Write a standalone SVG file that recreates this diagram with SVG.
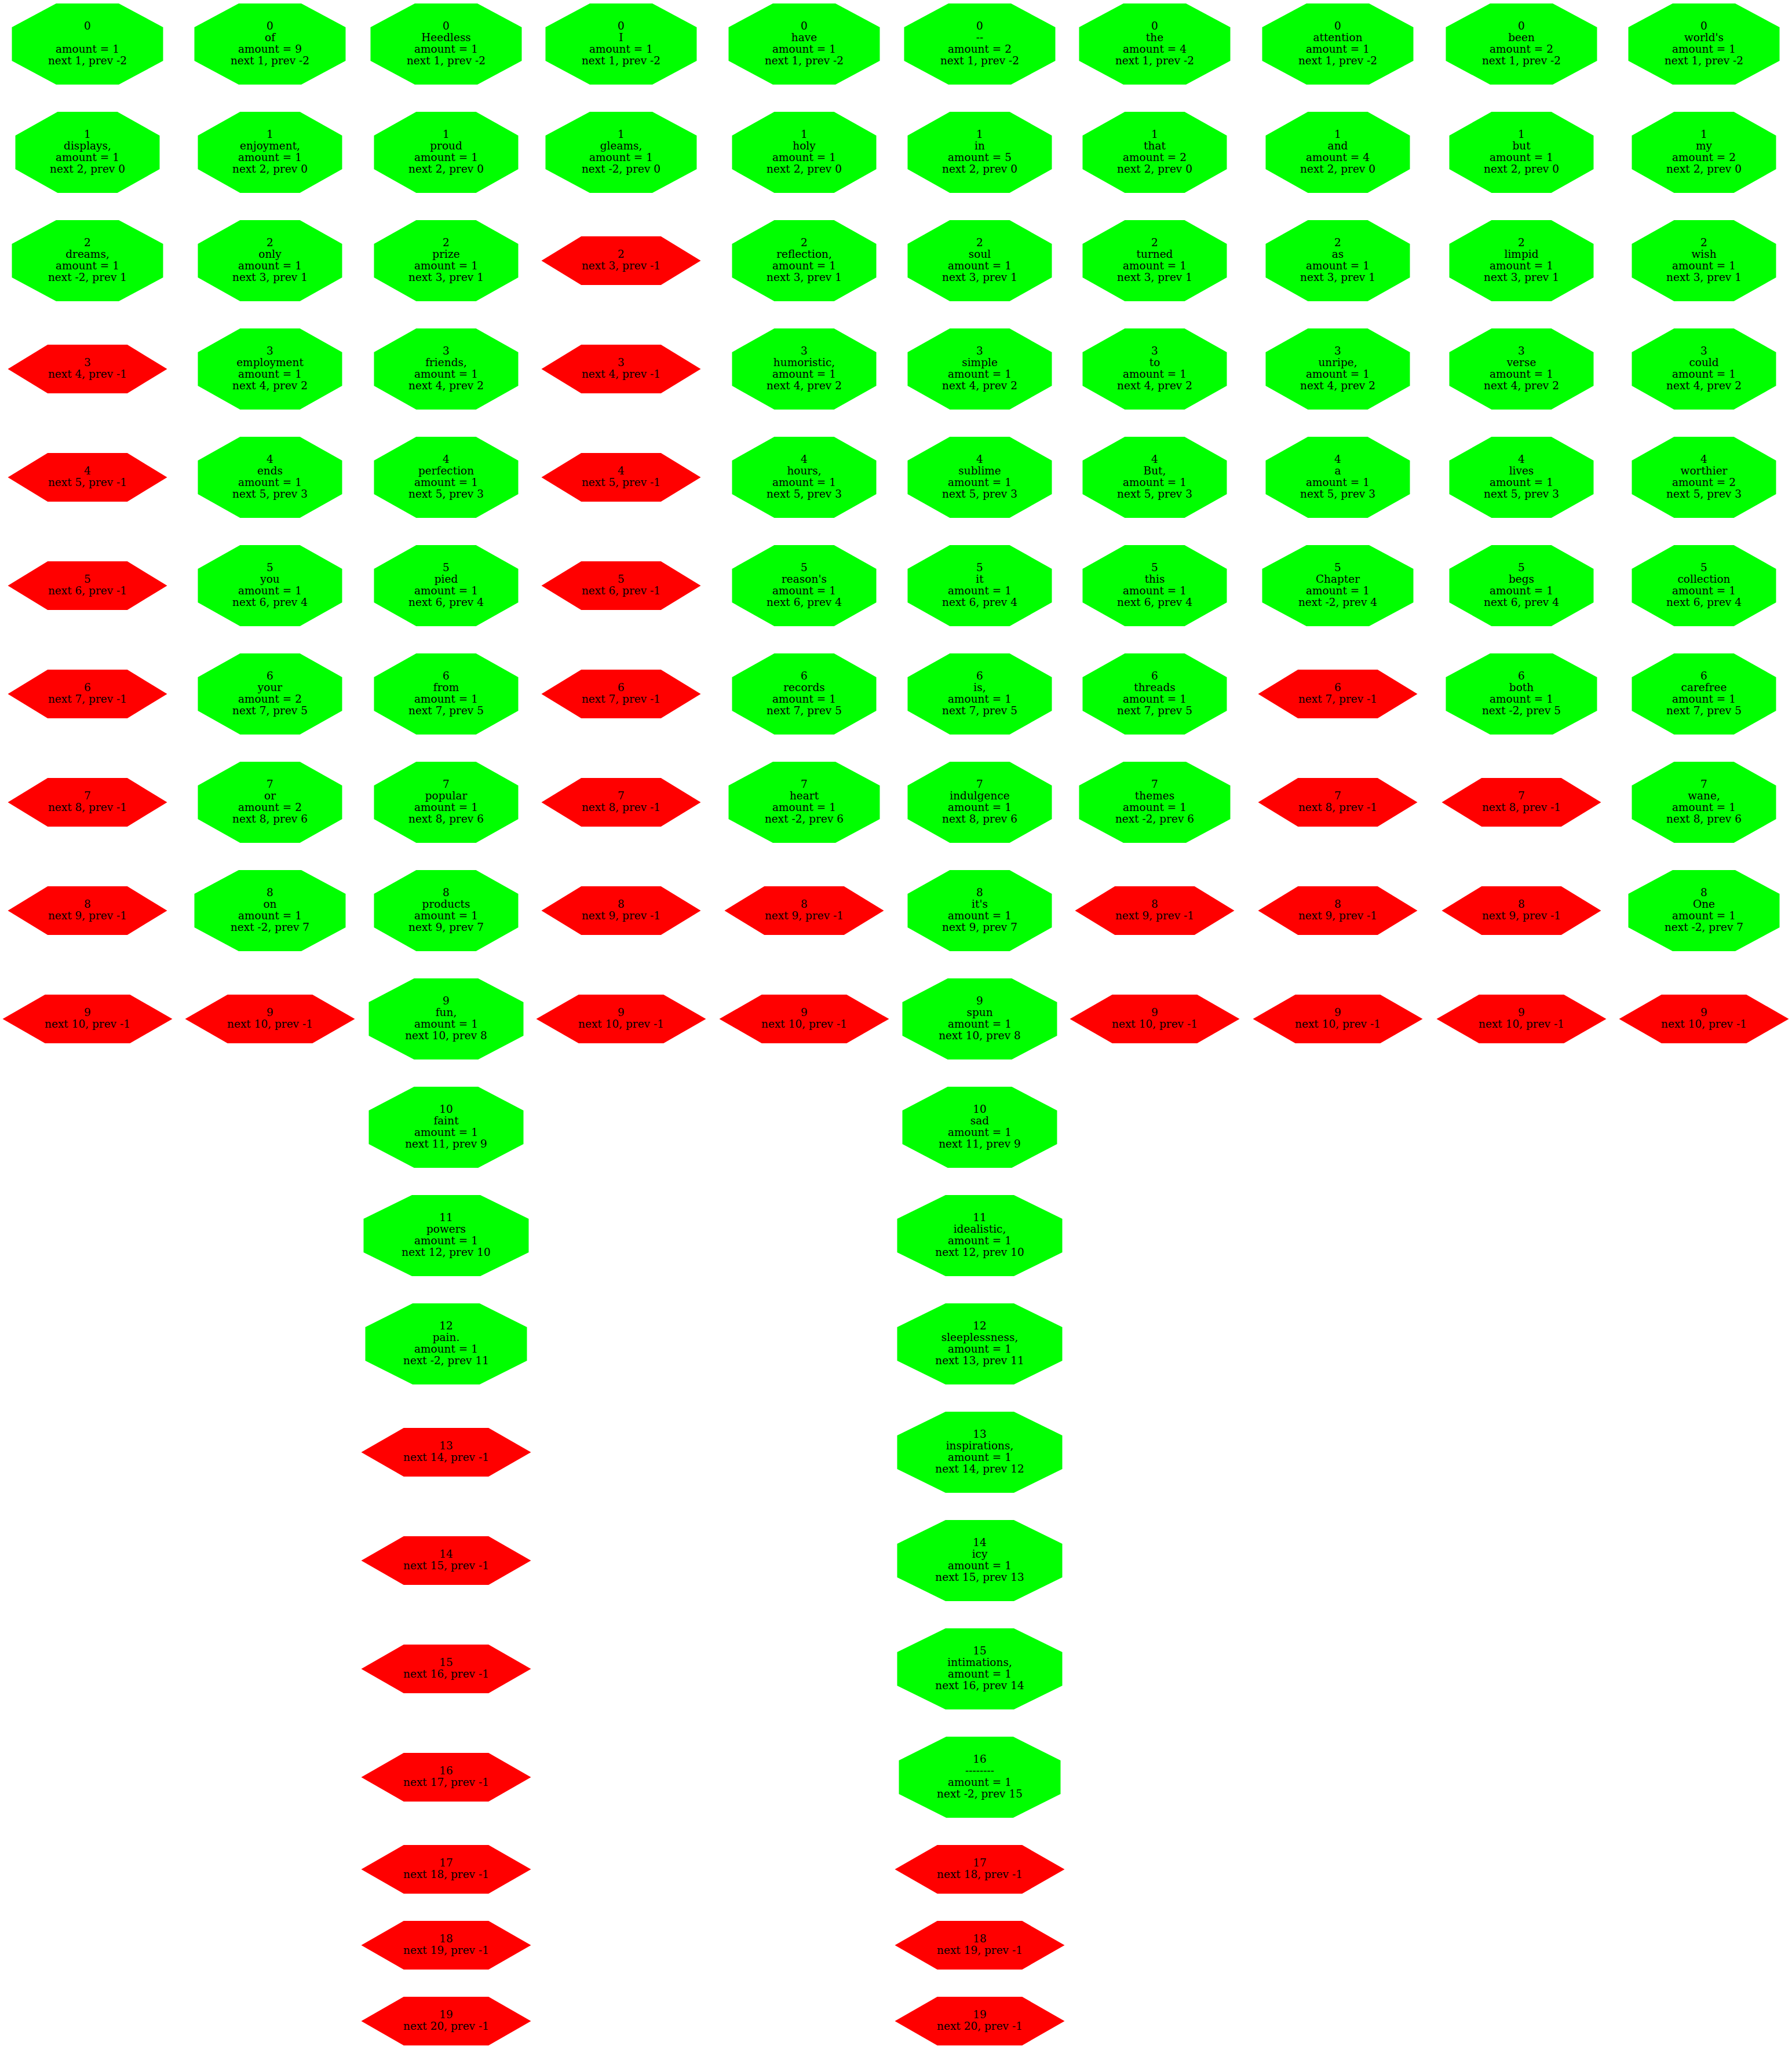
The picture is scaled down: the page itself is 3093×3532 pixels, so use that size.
<svg xmlns="http://www.w3.org/2000/svg" width="3093" height="3532" viewBox="0 0 3093 3532">
<style>
.g{fill:#00ff00}
.r{fill:#ff0000}
text{font-family:"DejaVu Serif","Liberation Serif",serif;font-size:18.5px;text-anchor:middle;fill:#000}
</style>
<defs>
<polygon id="o" points="-0.414,-1 0.414,-1 1,-0.414 1,0.414 0.414,1 -0.414,1 -1,0.414 -1,-0.414"/>
<polygon id="h" points="-0.5,-1 0.5,-1 1,0 0.5,1 -0.5,1 -1,0"/>
</defs>
<rect width="3093" height="3532" fill="#fff"/>
<g id="connectors"/>
<g id="nodes">
<!-- column 1 -->
<g id="c1r0" transform="translate(151,76)"><use href="#o" transform="scale(130.5,70)" class="g"/><text><tspan x="0" y="-25.3">0</tspan><tspan x="0" y="15.1">amount = 1</tspan><tspan x="0" y="35.3">next 1, prev -2</tspan></text></g>
<g id="c1r1" transform="translate(151,263)"><use href="#o" transform="scale(124.5,70)" class="g"/><text><tspan x="0" y="-25.3">1</tspan><tspan x="0" y="-5.1">displays,</tspan><tspan x="0" y="15.1">amount = 1</tspan><tspan x="0" y="35.3">next 2, prev 0</tspan></text></g>
<g id="c1r2" transform="translate(151,450)"><use href="#o" transform="scale(130.5,70)" class="g"/><text><tspan x="0" y="-25.3">2</tspan><tspan x="0" y="-5.1">dreams,</tspan><tspan x="0" y="15.1">amount = 1</tspan><tspan x="0" y="35.3">next -2, prev 1</tspan></text></g>
<g id="c1r3" transform="translate(151,637)"><use href="#h" transform="scale(137.5,42)" class="r"/><text><tspan x="0" y="-5.1">3</tspan><tspan x="0" y="15.1">next 4, prev -1</tspan></text></g>
<g id="c1r4" transform="translate(151,824)"><use href="#h" transform="scale(137.5,42)" class="r"/><text><tspan x="0" y="-5.1">4</tspan><tspan x="0" y="15.1">next 5, prev -1</tspan></text></g>
<g id="c1r5" transform="translate(151,1011)"><use href="#h" transform="scale(137.5,42)" class="r"/><text><tspan x="0" y="-5.1">5</tspan><tspan x="0" y="15.1">next 6, prev -1</tspan></text></g>
<g id="c1r6" transform="translate(151,1198)"><use href="#h" transform="scale(137.5,42)" class="r"/><text><tspan x="0" y="-5.1">6</tspan><tspan x="0" y="15.1">next 7, prev -1</tspan></text></g>
<g id="c1r7" transform="translate(151,1385)"><use href="#h" transform="scale(137.5,42)" class="r"/><text><tspan x="0" y="-5.1">7</tspan><tspan x="0" y="15.1">next 8, prev -1</tspan></text></g>
<g id="c1r8" transform="translate(151,1572)"><use href="#h" transform="scale(137.5,42)" class="r"/><text><tspan x="0" y="-5.1">8</tspan><tspan x="0" y="15.1">next 9, prev -1</tspan></text></g>
<g id="c1r9" transform="translate(151,1759)"><use href="#h" transform="scale(146.5,42)" class="r"/><text><tspan x="0" y="-5.1">9</tspan><tspan x="0" y="15.1">next 10, prev -1</tspan></text></g>
<!-- column 2 -->
<g id="c2r0" transform="translate(466,76)"><use href="#o" transform="scale(130.5,70)" class="g"/><text><tspan x="0" y="-25.3">0</tspan><tspan x="0" y="-5.1">of</tspan><tspan x="0" y="15.1">amount = 9</tspan><tspan x="0" y="35.3">next 1, prev -2</tspan></text></g>
<g id="c2r1" transform="translate(466,263)"><use href="#o" transform="scale(124.5,70)" class="g"/><text><tspan x="0" y="-25.3">1</tspan><tspan x="0" y="-5.1">enjoyment,</tspan><tspan x="0" y="15.1">amount = 1</tspan><tspan x="0" y="35.3">next 2, prev 0</tspan></text></g>
<g id="c2r2" transform="translate(466,450)"><use href="#o" transform="scale(124.5,70)" class="g"/><text><tspan x="0" y="-25.3">2</tspan><tspan x="0" y="-5.1">only</tspan><tspan x="0" y="15.1">amount = 1</tspan><tspan x="0" y="35.3">next 3, prev 1</tspan></text></g>
<g id="c2r3" transform="translate(466,637)"><use href="#o" transform="scale(124.5,70)" class="g"/><text><tspan x="0" y="-25.3">3</tspan><tspan x="0" y="-5.1">employment</tspan><tspan x="0" y="15.1">amount = 1</tspan><tspan x="0" y="35.3">next 4, prev 2</tspan></text></g>
<g id="c2r4" transform="translate(466,824)"><use href="#o" transform="scale(124.5,70)" class="g"/><text><tspan x="0" y="-25.3">4</tspan><tspan x="0" y="-5.1">ends</tspan><tspan x="0" y="15.1">amount = 1</tspan><tspan x="0" y="35.3">next 5, prev 3</tspan></text></g>
<g id="c2r5" transform="translate(466,1011)"><use href="#o" transform="scale(124.5,70)" class="g"/><text><tspan x="0" y="-25.3">5</tspan><tspan x="0" y="-5.1">you</tspan><tspan x="0" y="15.1">amount = 1</tspan><tspan x="0" y="35.3">next 6, prev 4</tspan></text></g>
<g id="c2r6" transform="translate(466,1198)"><use href="#o" transform="scale(124.5,70)" class="g"/><text><tspan x="0" y="-25.3">6</tspan><tspan x="0" y="-5.1">your</tspan><tspan x="0" y="15.1">amount = 2</tspan><tspan x="0" y="35.3">next 7, prev 5</tspan></text></g>
<g id="c2r7" transform="translate(466,1385)"><use href="#o" transform="scale(124.5,70)" class="g"/><text><tspan x="0" y="-25.3">7</tspan><tspan x="0" y="-5.1">or</tspan><tspan x="0" y="15.1">amount = 2</tspan><tspan x="0" y="35.3">next 8, prev 6</tspan></text></g>
<g id="c2r8" transform="translate(466,1572)"><use href="#o" transform="scale(130.5,70)" class="g"/><text><tspan x="0" y="-25.3">8</tspan><tspan x="0" y="-5.1">on</tspan><tspan x="0" y="15.1">amount = 1</tspan><tspan x="0" y="35.3">next -2, prev 7</tspan></text></g>
<g id="c2r9" transform="translate(466,1759)"><use href="#h" transform="scale(146.5,42)" class="r"/><text><tspan x="0" y="-5.1">9</tspan><tspan x="0" y="15.1">next 10, prev -1</tspan></text></g>
<!-- column 3 -->
<g id="c3r0" transform="translate(770,76)"><use href="#o" transform="scale(130.5,70)" class="g"/><text><tspan x="0" y="-25.3">0</tspan><tspan x="0" y="-5.1">Heedless</tspan><tspan x="0" y="15.1">amount = 1</tspan><tspan x="0" y="35.3">next 1, prev -2</tspan></text></g>
<g id="c3r1" transform="translate(770,263)"><use href="#o" transform="scale(124.5,70)" class="g"/><text><tspan x="0" y="-25.3">1</tspan><tspan x="0" y="-5.1">proud</tspan><tspan x="0" y="15.1">amount = 1</tspan><tspan x="0" y="35.3">next 2, prev 0</tspan></text></g>
<g id="c3r2" transform="translate(770,450)"><use href="#o" transform="scale(124.5,70)" class="g"/><text><tspan x="0" y="-25.3">2</tspan><tspan x="0" y="-5.1">prize</tspan><tspan x="0" y="15.1">amount = 1</tspan><tspan x="0" y="35.3">next 3, prev 1</tspan></text></g>
<g id="c3r3" transform="translate(770,637)"><use href="#o" transform="scale(124.5,70)" class="g"/><text><tspan x="0" y="-25.3">3</tspan><tspan x="0" y="-5.1">friends,</tspan><tspan x="0" y="15.1">amount = 1</tspan><tspan x="0" y="35.3">next 4, prev 2</tspan></text></g>
<g id="c3r4" transform="translate(770,824)"><use href="#o" transform="scale(124.5,70)" class="g"/><text><tspan x="0" y="-25.3">4</tspan><tspan x="0" y="-5.1">perfection</tspan><tspan x="0" y="15.1">amount = 1</tspan><tspan x="0" y="35.3">next 5, prev 3</tspan></text></g>
<g id="c3r5" transform="translate(770,1011)"><use href="#o" transform="scale(124.5,70)" class="g"/><text><tspan x="0" y="-25.3">5</tspan><tspan x="0" y="-5.1">pied</tspan><tspan x="0" y="15.1">amount = 1</tspan><tspan x="0" y="35.3">next 6, prev 4</tspan></text></g>
<g id="c3r6" transform="translate(770,1198)"><use href="#o" transform="scale(124.5,70)" class="g"/><text><tspan x="0" y="-25.3">6</tspan><tspan x="0" y="-5.1">from</tspan><tspan x="0" y="15.1">amount = 1</tspan><tspan x="0" y="35.3">next 7, prev 5</tspan></text></g>
<g id="c3r7" transform="translate(770,1385)"><use href="#o" transform="scale(124.5,70)" class="g"/><text><tspan x="0" y="-25.3">7</tspan><tspan x="0" y="-5.1">popular</tspan><tspan x="0" y="15.1">amount = 1</tspan><tspan x="0" y="35.3">next 8, prev 6</tspan></text></g>
<g id="c3r8" transform="translate(770,1572)"><use href="#o" transform="scale(124.5,70)" class="g"/><text><tspan x="0" y="-25.3">8</tspan><tspan x="0" y="-5.1">products</tspan><tspan x="0" y="15.1">amount = 1</tspan><tspan x="0" y="35.3">next 9, prev 7</tspan></text></g>
<g id="c3r9" transform="translate(770,1759)"><use href="#o" transform="scale(133.5,70)" class="g"/><text><tspan x="0" y="-25.3">9</tspan><tspan x="0" y="-5.1">fun,</tspan><tspan x="0" y="15.1">amount = 1</tspan><tspan x="0" y="35.3">next 10, prev 8</tspan></text></g>
<g id="c3r10" transform="translate(770,1946)"><use href="#o" transform="scale(133.5,70)" class="g"/><text><tspan x="0" y="-25.3">10</tspan><tspan x="0" y="-5.1">faint</tspan><tspan x="0" y="15.1">amount = 1</tspan><tspan x="0" y="35.3">next 11, prev 9</tspan></text></g>
<g id="c3r11" transform="translate(770,2133)"><use href="#o" transform="scale(142.5,70)" class="g"/><text><tspan x="0" y="-25.3">11</tspan><tspan x="0" y="-5.1">powers</tspan><tspan x="0" y="15.1">amount = 1</tspan><tspan x="0" y="35.3">next 12, prev 10</tspan></text></g>
<g id="c3r12" transform="translate(770,2320)"><use href="#o" transform="scale(139.5,70)" class="g"/><text><tspan x="0" y="-25.3">12</tspan><tspan x="0" y="-5.1">pain.</tspan><tspan x="0" y="15.1">amount = 1</tspan><tspan x="0" y="35.3">next -2, prev 11</tspan></text></g>
<g id="c3r13" transform="translate(770,2507)"><use href="#h" transform="scale(146.5,42)" class="r"/><text><tspan x="0" y="-5.1">13</tspan><tspan x="0" y="15.1">next 14, prev -1</tspan></text></g>
<g id="c3r14" transform="translate(770,2694)"><use href="#h" transform="scale(146.5,42)" class="r"/><text><tspan x="0" y="-5.1">14</tspan><tspan x="0" y="15.1">next 15, prev -1</tspan></text></g>
<g id="c3r15" transform="translate(770,2881)"><use href="#h" transform="scale(146.5,42)" class="r"/><text><tspan x="0" y="-5.1">15</tspan><tspan x="0" y="15.1">next 16, prev -1</tspan></text></g>
<g id="c3r16" transform="translate(770,3068)"><use href="#h" transform="scale(146.5,42)" class="r"/><text><tspan x="0" y="-5.1">16</tspan><tspan x="0" y="15.1">next 17, prev -1</tspan></text></g>
<g id="c3r17" transform="translate(770,3227)"><use href="#h" transform="scale(146.5,42)" class="r"/><text><tspan x="0" y="-5.1">17</tspan><tspan x="0" y="15.1">next 18, prev -1</tspan></text></g>
<g id="c3r18" transform="translate(770,3358)"><use href="#h" transform="scale(146.5,42)" class="r"/><text><tspan x="0" y="-5.1">18</tspan><tspan x="0" y="15.1">next 19, prev -1</tspan></text></g>
<g id="c3r19" transform="translate(770,3489)"><use href="#h" transform="scale(146.5,42)" class="r"/><text><tspan x="0" y="-5.1">19</tspan><tspan x="0" y="15.1">next 20, prev -1</tspan></text></g>
<!-- column 4 -->
<g id="c4r0" transform="translate(1072,76)"><use href="#o" transform="scale(130.5,70)" class="g"/><text><tspan x="0" y="-25.3">0</tspan><tspan x="0" y="-5.1">I</tspan><tspan x="0" y="15.1">amount = 1</tspan><tspan x="0" y="35.3">next 1, prev -2</tspan></text></g>
<g id="c4r1" transform="translate(1072,263)"><use href="#o" transform="scale(130.5,70)" class="g"/><text><tspan x="0" y="-25.3">1</tspan><tspan x="0" y="-5.1">gleams,</tspan><tspan x="0" y="15.1">amount = 1</tspan><tspan x="0" y="35.3">next -2, prev 0</tspan></text></g>
<g id="c4r2" transform="translate(1072,450)"><use href="#h" transform="scale(137.5,42)" class="r"/><text><tspan x="0" y="-5.1">2</tspan><tspan x="0" y="15.1">next 3, prev -1</tspan></text></g>
<g id="c4r3" transform="translate(1072,637)"><use href="#h" transform="scale(137.5,42)" class="r"/><text><tspan x="0" y="-5.1">3</tspan><tspan x="0" y="15.1">next 4, prev -1</tspan></text></g>
<g id="c4r4" transform="translate(1072,824)"><use href="#h" transform="scale(137.5,42)" class="r"/><text><tspan x="0" y="-5.1">4</tspan><tspan x="0" y="15.1">next 5, prev -1</tspan></text></g>
<g id="c4r5" transform="translate(1072,1011)"><use href="#h" transform="scale(137.5,42)" class="r"/><text><tspan x="0" y="-5.1">5</tspan><tspan x="0" y="15.1">next 6, prev -1</tspan></text></g>
<g id="c4r6" transform="translate(1072,1198)"><use href="#h" transform="scale(137.5,42)" class="r"/><text><tspan x="0" y="-5.1">6</tspan><tspan x="0" y="15.1">next 7, prev -1</tspan></text></g>
<g id="c4r7" transform="translate(1072,1385)"><use href="#h" transform="scale(137.5,42)" class="r"/><text><tspan x="0" y="-5.1">7</tspan><tspan x="0" y="15.1">next 8, prev -1</tspan></text></g>
<g id="c4r8" transform="translate(1072,1572)"><use href="#h" transform="scale(137.5,42)" class="r"/><text><tspan x="0" y="-5.1">8</tspan><tspan x="0" y="15.1">next 9, prev -1</tspan></text></g>
<g id="c4r9" transform="translate(1072,1759)"><use href="#h" transform="scale(146.5,42)" class="r"/><text><tspan x="0" y="-5.1">9</tspan><tspan x="0" y="15.1">next 10, prev -1</tspan></text></g>
<!-- column 5 -->
<g id="c5r0" transform="translate(1388,76)"><use href="#o" transform="scale(130.5,70)" class="g"/><text><tspan x="0" y="-25.3">0</tspan><tspan x="0" y="-5.1">have</tspan><tspan x="0" y="15.1">amount = 1</tspan><tspan x="0" y="35.3">next 1, prev -2</tspan></text></g>
<g id="c5r1" transform="translate(1388,263)"><use href="#o" transform="scale(124.5,70)" class="g"/><text><tspan x="0" y="-25.3">1</tspan><tspan x="0" y="-5.1">holy</tspan><tspan x="0" y="15.1">amount = 1</tspan><tspan x="0" y="35.3">next 2, prev 0</tspan></text></g>
<g id="c5r2" transform="translate(1388,450)"><use href="#o" transform="scale(124.5,70)" class="g"/><text><tspan x="0" y="-25.3">2</tspan><tspan x="0" y="-5.1">reflection,</tspan><tspan x="0" y="15.1">amount = 1</tspan><tspan x="0" y="35.3">next 3, prev 1</tspan></text></g>
<g id="c5r3" transform="translate(1388,637)"><use href="#o" transform="scale(124.5,70)" class="g"/><text><tspan x="0" y="-25.3">3</tspan><tspan x="0" y="-5.1">humoristic,</tspan><tspan x="0" y="15.1">amount = 1</tspan><tspan x="0" y="35.3">next 4, prev 2</tspan></text></g>
<g id="c5r4" transform="translate(1388,824)"><use href="#o" transform="scale(124.5,70)" class="g"/><text><tspan x="0" y="-25.3">4</tspan><tspan x="0" y="-5.1">hours,</tspan><tspan x="0" y="15.1">amount = 1</tspan><tspan x="0" y="35.3">next 5, prev 3</tspan></text></g>
<g id="c5r5" transform="translate(1388,1011)"><use href="#o" transform="scale(124.5,70)" class="g"/><text><tspan x="0" y="-25.3">5</tspan><tspan x="0" y="-5.1">reason's</tspan><tspan x="0" y="15.1">amount = 1</tspan><tspan x="0" y="35.3">next 6, prev 4</tspan></text></g>
<g id="c5r6" transform="translate(1388,1198)"><use href="#o" transform="scale(124.5,70)" class="g"/><text><tspan x="0" y="-25.3">6</tspan><tspan x="0" y="-5.1">records</tspan><tspan x="0" y="15.1">amount = 1</tspan><tspan x="0" y="35.3">next 7, prev 5</tspan></text></g>
<g id="c5r7" transform="translate(1388,1385)"><use href="#o" transform="scale(130.5,70)" class="g"/><text><tspan x="0" y="-25.3">7</tspan><tspan x="0" y="-5.1">heart</tspan><tspan x="0" y="15.1">amount = 1</tspan><tspan x="0" y="35.3">next -2, prev 6</tspan></text></g>
<g id="c5r8" transform="translate(1388,1572)"><use href="#h" transform="scale(137.5,42)" class="r"/><text><tspan x="0" y="-5.1">8</tspan><tspan x="0" y="15.1">next 9, prev -1</tspan></text></g>
<g id="c5r9" transform="translate(1388,1759)"><use href="#h" transform="scale(146.5,42)" class="r"/><text><tspan x="0" y="-5.1">9</tspan><tspan x="0" y="15.1">next 10, prev -1</tspan></text></g>
<!-- column 6 -->
<g id="c6r0" transform="translate(1691,76)"><use href="#o" transform="scale(130.5,70)" class="g"/><text><tspan x="0" y="-25.3">0</tspan><tspan x="0" y="-5.1">--</tspan><tspan x="0" y="15.1">amount = 2</tspan><tspan x="0" y="35.3">next 1, prev -2</tspan></text></g>
<g id="c6r1" transform="translate(1691,263)"><use href="#o" transform="scale(124.5,70)" class="g"/><text><tspan x="0" y="-25.3">1</tspan><tspan x="0" y="-5.1">in</tspan><tspan x="0" y="15.1">amount = 5</tspan><tspan x="0" y="35.3">next 2, prev 0</tspan></text></g>
<g id="c6r2" transform="translate(1691,450)"><use href="#o" transform="scale(124.5,70)" class="g"/><text><tspan x="0" y="-25.3">2</tspan><tspan x="0" y="-5.1">soul</tspan><tspan x="0" y="15.1">amount = 1</tspan><tspan x="0" y="35.3">next 3, prev 1</tspan></text></g>
<g id="c6r3" transform="translate(1691,637)"><use href="#o" transform="scale(124.5,70)" class="g"/><text><tspan x="0" y="-25.3">3</tspan><tspan x="0" y="-5.1">simple</tspan><tspan x="0" y="15.1">amount = 1</tspan><tspan x="0" y="35.3">next 4, prev 2</tspan></text></g>
<g id="c6r4" transform="translate(1691,824)"><use href="#o" transform="scale(124.5,70)" class="g"/><text><tspan x="0" y="-25.3">4</tspan><tspan x="0" y="-5.1">sublime</tspan><tspan x="0" y="15.1">amount = 1</tspan><tspan x="0" y="35.3">next 5, prev 3</tspan></text></g>
<g id="c6r5" transform="translate(1691,1011)"><use href="#o" transform="scale(124.5,70)" class="g"/><text><tspan x="0" y="-25.3">5</tspan><tspan x="0" y="-5.1">it</tspan><tspan x="0" y="15.1">amount = 1</tspan><tspan x="0" y="35.3">next 6, prev 4</tspan></text></g>
<g id="c6r6" transform="translate(1691,1198)"><use href="#o" transform="scale(124.5,70)" class="g"/><text><tspan x="0" y="-25.3">6</tspan><tspan x="0" y="-5.1">is,</tspan><tspan x="0" y="15.1">amount = 1</tspan><tspan x="0" y="35.3">next 7, prev 5</tspan></text></g>
<g id="c6r7" transform="translate(1691,1385)"><use href="#o" transform="scale(124.5,70)" class="g"/><text><tspan x="0" y="-25.3">7</tspan><tspan x="0" y="-5.1">indulgence</tspan><tspan x="0" y="15.1">amount = 1</tspan><tspan x="0" y="35.3">next 8, prev 6</tspan></text></g>
<g id="c6r8" transform="translate(1691,1572)"><use href="#o" transform="scale(124.5,70)" class="g"/><text><tspan x="0" y="-25.3">8</tspan><tspan x="0" y="-5.1">it's</tspan><tspan x="0" y="15.1">amount = 1</tspan><tspan x="0" y="35.3">next 9, prev 7</tspan></text></g>
<g id="c6r9" transform="translate(1691,1759)"><use href="#o" transform="scale(133.5,70)" class="g"/><text><tspan x="0" y="-25.3">9</tspan><tspan x="0" y="-5.1">spun</tspan><tspan x="0" y="15.1">amount = 1</tspan><tspan x="0" y="35.3">next 10, prev 8</tspan></text></g>
<g id="c6r10" transform="translate(1691,1946)"><use href="#o" transform="scale(133.5,70)" class="g"/><text><tspan x="0" y="-25.3">10</tspan><tspan x="0" y="-5.1">sad</tspan><tspan x="0" y="15.1">amount = 1</tspan><tspan x="0" y="35.3">next 11, prev 9</tspan></text></g>
<g id="c6r11" transform="translate(1691,2133)"><use href="#o" transform="scale(142.5,70)" class="g"/><text><tspan x="0" y="-25.3">11</tspan><tspan x="0" y="-5.1">idealistic,</tspan><tspan x="0" y="15.1">amount = 1</tspan><tspan x="0" y="35.3">next 12, prev 10</tspan></text></g>
<g id="c6r12" transform="translate(1691,2320)"><use href="#o" transform="scale(142.5,70)" class="g"/><text><tspan x="0" y="-25.3">12</tspan><tspan x="0" y="-5.1">sleeplessness,</tspan><tspan x="0" y="15.1">amount = 1</tspan><tspan x="0" y="35.3">next 13, prev 11</tspan></text></g>
<g id="c6r13" transform="translate(1691,2507)"><use href="#o" transform="scale(142.5,70)" class="g"/><text><tspan x="0" y="-25.3">13</tspan><tspan x="0" y="-5.1">inspirations,</tspan><tspan x="0" y="15.1">amount = 1</tspan><tspan x="0" y="35.3">next 14, prev 12</tspan></text></g>
<g id="c6r14" transform="translate(1691,2694)"><use href="#o" transform="scale(142.5,70)" class="g"/><text><tspan x="0" y="-25.3">14</tspan><tspan x="0" y="-5.1">icy</tspan><tspan x="0" y="15.1">amount = 1</tspan><tspan x="0" y="35.3">next 15, prev 13</tspan></text></g>
<g id="c6r15" transform="translate(1691,2881)"><use href="#o" transform="scale(142.5,70)" class="g"/><text><tspan x="0" y="-25.3">15</tspan><tspan x="0" y="-5.1">intimations,</tspan><tspan x="0" y="15.1">amount = 1</tspan><tspan x="0" y="35.3">next 16, prev 14</tspan></text></g>
<g id="c6r16" transform="translate(1691,3068)"><use href="#o" transform="scale(139.5,70)" class="g"/><text><tspan x="0" y="-25.3">16</tspan><tspan x="0" y="-5.1">--------</tspan><tspan x="0" y="15.1">amount = 1</tspan><tspan x="0" y="35.3">next -2, prev 15</tspan></text></g>
<g id="c6r17" transform="translate(1691,3227)"><use href="#h" transform="scale(146.5,42)" class="r"/><text><tspan x="0" y="-5.1">17</tspan><tspan x="0" y="15.1">next 18, prev -1</tspan></text></g>
<g id="c6r18" transform="translate(1691,3358)"><use href="#h" transform="scale(146.5,42)" class="r"/><text><tspan x="0" y="-5.1">18</tspan><tspan x="0" y="15.1">next 19, prev -1</tspan></text></g>
<g id="c6r19" transform="translate(1691,3489)"><use href="#h" transform="scale(146.5,42)" class="r"/><text><tspan x="0" y="-5.1">19</tspan><tspan x="0" y="15.1">next 20, prev -1</tspan></text></g>
<!-- column 7 -->
<g id="c7r0" transform="translate(1993,76)"><use href="#o" transform="scale(130.5,70)" class="g"/><text><tspan x="0" y="-25.3">0</tspan><tspan x="0" y="-5.1">the</tspan><tspan x="0" y="15.1">amount = 4</tspan><tspan x="0" y="35.3">next 1, prev -2</tspan></text></g>
<g id="c7r1" transform="translate(1993,263)"><use href="#o" transform="scale(124.5,70)" class="g"/><text><tspan x="0" y="-25.3">1</tspan><tspan x="0" y="-5.1">that</tspan><tspan x="0" y="15.1">amount = 2</tspan><tspan x="0" y="35.3">next 2, prev 0</tspan></text></g>
<g id="c7r2" transform="translate(1993,450)"><use href="#o" transform="scale(124.5,70)" class="g"/><text><tspan x="0" y="-25.3">2</tspan><tspan x="0" y="-5.1">turned</tspan><tspan x="0" y="15.1">amount = 1</tspan><tspan x="0" y="35.3">next 3, prev 1</tspan></text></g>
<g id="c7r3" transform="translate(1993,637)"><use href="#o" transform="scale(124.5,70)" class="g"/><text><tspan x="0" y="-25.3">3</tspan><tspan x="0" y="-5.1">to</tspan><tspan x="0" y="15.1">amount = 1</tspan><tspan x="0" y="35.3">next 4, prev 2</tspan></text></g>
<g id="c7r4" transform="translate(1993,824)"><use href="#o" transform="scale(124.5,70)" class="g"/><text><tspan x="0" y="-25.3">4</tspan><tspan x="0" y="-5.1">But,</tspan><tspan x="0" y="15.1">amount = 1</tspan><tspan x="0" y="35.3">next 5, prev 3</tspan></text></g>
<g id="c7r5" transform="translate(1993,1011)"><use href="#o" transform="scale(124.5,70)" class="g"/><text><tspan x="0" y="-25.3">5</tspan><tspan x="0" y="-5.1">this</tspan><tspan x="0" y="15.1">amount = 1</tspan><tspan x="0" y="35.3">next 6, prev 4</tspan></text></g>
<g id="c7r6" transform="translate(1993,1198)"><use href="#o" transform="scale(124.5,70)" class="g"/><text><tspan x="0" y="-25.3">6</tspan><tspan x="0" y="-5.1">threads</tspan><tspan x="0" y="15.1">amount = 1</tspan><tspan x="0" y="35.3">next 7, prev 5</tspan></text></g>
<g id="c7r7" transform="translate(1993,1385)"><use href="#o" transform="scale(130.5,70)" class="g"/><text><tspan x="0" y="-25.3">7</tspan><tspan x="0" y="-5.1">themes</tspan><tspan x="0" y="15.1">amount = 1</tspan><tspan x="0" y="35.3">next -2, prev 6</tspan></text></g>
<g id="c7r8" transform="translate(1993,1572)"><use href="#h" transform="scale(137.5,42)" class="r"/><text><tspan x="0" y="-5.1">8</tspan><tspan x="0" y="15.1">next 9, prev -1</tspan></text></g>
<g id="c7r9" transform="translate(1993,1759)"><use href="#h" transform="scale(146.5,42)" class="r"/><text><tspan x="0" y="-5.1">9</tspan><tspan x="0" y="15.1">next 10, prev -1</tspan></text></g>
<!-- column 8 -->
<g id="c8r0" transform="translate(2309,76)"><use href="#o" transform="scale(130.5,70)" class="g"/><text><tspan x="0" y="-25.3">0</tspan><tspan x="0" y="-5.1">attention</tspan><tspan x="0" y="15.1">amount = 1</tspan><tspan x="0" y="35.3">next 1, prev -2</tspan></text></g>
<g id="c8r1" transform="translate(2309,263)"><use href="#o" transform="scale(124.5,70)" class="g"/><text><tspan x="0" y="-25.3">1</tspan><tspan x="0" y="-5.1">and</tspan><tspan x="0" y="15.1">amount = 4</tspan><tspan x="0" y="35.3">next 2, prev 0</tspan></text></g>
<g id="c8r2" transform="translate(2309,450)"><use href="#o" transform="scale(124.5,70)" class="g"/><text><tspan x="0" y="-25.3">2</tspan><tspan x="0" y="-5.1">as</tspan><tspan x="0" y="15.1">amount = 1</tspan><tspan x="0" y="35.3">next 3, prev 1</tspan></text></g>
<g id="c8r3" transform="translate(2309,637)"><use href="#o" transform="scale(124.5,70)" class="g"/><text><tspan x="0" y="-25.3">3</tspan><tspan x="0" y="-5.1">unripe,</tspan><tspan x="0" y="15.1">amount = 1</tspan><tspan x="0" y="35.3">next 4, prev 2</tspan></text></g>
<g id="c8r4" transform="translate(2309,824)"><use href="#o" transform="scale(124.5,70)" class="g"/><text><tspan x="0" y="-25.3">4</tspan><tspan x="0" y="-5.1">a</tspan><tspan x="0" y="15.1">amount = 1</tspan><tspan x="0" y="35.3">next 5, prev 3</tspan></text></g>
<g id="c8r5" transform="translate(2309,1011)"><use href="#o" transform="scale(130.5,70)" class="g"/><text><tspan x="0" y="-25.3">5</tspan><tspan x="0" y="-5.1">Chapter</tspan><tspan x="0" y="15.1">amount = 1</tspan><tspan x="0" y="35.3">next -2, prev 4</tspan></text></g>
<g id="c8r6" transform="translate(2309,1198)"><use href="#h" transform="scale(137.5,42)" class="r"/><text><tspan x="0" y="-5.1">6</tspan><tspan x="0" y="15.1">next 7, prev -1</tspan></text></g>
<g id="c8r7" transform="translate(2309,1385)"><use href="#h" transform="scale(137.5,42)" class="r"/><text><tspan x="0" y="-5.1">7</tspan><tspan x="0" y="15.1">next 8, prev -1</tspan></text></g>
<g id="c8r8" transform="translate(2309,1572)"><use href="#h" transform="scale(137.5,42)" class="r"/><text><tspan x="0" y="-5.1">8</tspan><tspan x="0" y="15.1">next 9, prev -1</tspan></text></g>
<g id="c8r9" transform="translate(2309,1759)"><use href="#h" transform="scale(146.5,42)" class="r"/><text><tspan x="0" y="-5.1">9</tspan><tspan x="0" y="15.1">next 10, prev -1</tspan></text></g>
<!-- column 9 -->
<g id="c9r0" transform="translate(2626,76)"><use href="#o" transform="scale(130.5,70)" class="g"/><text><tspan x="0" y="-25.3">0</tspan><tspan x="0" y="-5.1">been</tspan><tspan x="0" y="15.1">amount = 2</tspan><tspan x="0" y="35.3">next 1, prev -2</tspan></text></g>
<g id="c9r1" transform="translate(2626,263)"><use href="#o" transform="scale(124.5,70)" class="g"/><text><tspan x="0" y="-25.3">1</tspan><tspan x="0" y="-5.1">but</tspan><tspan x="0" y="15.1">amount = 1</tspan><tspan x="0" y="35.3">next 2, prev 0</tspan></text></g>
<g id="c9r2" transform="translate(2626,450)"><use href="#o" transform="scale(124.5,70)" class="g"/><text><tspan x="0" y="-25.3">2</tspan><tspan x="0" y="-5.1">limpid</tspan><tspan x="0" y="15.1">amount = 1</tspan><tspan x="0" y="35.3">next 3, prev 1</tspan></text></g>
<g id="c9r3" transform="translate(2626,637)"><use href="#o" transform="scale(124.5,70)" class="g"/><text><tspan x="0" y="-25.3">3</tspan><tspan x="0" y="-5.1">verse</tspan><tspan x="0" y="15.1">amount = 1</tspan><tspan x="0" y="35.3">next 4, prev 2</tspan></text></g>
<g id="c9r4" transform="translate(2626,824)"><use href="#o" transform="scale(124.5,70)" class="g"/><text><tspan x="0" y="-25.3">4</tspan><tspan x="0" y="-5.1">lives</tspan><tspan x="0" y="15.1">amount = 1</tspan><tspan x="0" y="35.3">next 5, prev 3</tspan></text></g>
<g id="c9r5" transform="translate(2626,1011)"><use href="#o" transform="scale(124.5,70)" class="g"/><text><tspan x="0" y="-25.3">5</tspan><tspan x="0" y="-5.1">begs</tspan><tspan x="0" y="15.1">amount = 1</tspan><tspan x="0" y="35.3">next 6, prev 4</tspan></text></g>
<g id="c9r6" transform="translate(2626,1198)"><use href="#o" transform="scale(130.5,70)" class="g"/><text><tspan x="0" y="-25.3">6</tspan><tspan x="0" y="-5.1">both</tspan><tspan x="0" y="15.1">amount = 1</tspan><tspan x="0" y="35.3">next -2, prev 5</tspan></text></g>
<g id="c9r7" transform="translate(2626,1385)"><use href="#h" transform="scale(137.5,42)" class="r"/><text><tspan x="0" y="-5.1">7</tspan><tspan x="0" y="15.1">next 8, prev -1</tspan></text></g>
<g id="c9r8" transform="translate(2626,1572)"><use href="#h" transform="scale(137.5,42)" class="r"/><text><tspan x="0" y="-5.1">8</tspan><tspan x="0" y="15.1">next 9, prev -1</tspan></text></g>
<g id="c9r9" transform="translate(2626,1759)"><use href="#h" transform="scale(146.5,42)" class="r"/><text><tspan x="0" y="-5.1">9</tspan><tspan x="0" y="15.1">next 10, prev -1</tspan></text></g>
<!-- column 10 -->
<g id="c10r0" transform="translate(2941,76)"><use href="#o" transform="scale(130.5,70)" class="g"/><text><tspan x="0" y="-25.3">0</tspan><tspan x="0" y="-5.1">world's</tspan><tspan x="0" y="15.1">amount = 1</tspan><tspan x="0" y="35.3">next 1, prev -2</tspan></text></g>
<g id="c10r1" transform="translate(2941,263)"><use href="#o" transform="scale(124.5,70)" class="g"/><text><tspan x="0" y="-25.3">1</tspan><tspan x="0" y="-5.1">my</tspan><tspan x="0" y="15.1">amount = 2</tspan><tspan x="0" y="35.3">next 2, prev 0</tspan></text></g>
<g id="c10r2" transform="translate(2941,450)"><use href="#o" transform="scale(124.5,70)" class="g"/><text><tspan x="0" y="-25.3">2</tspan><tspan x="0" y="-5.1">wish</tspan><tspan x="0" y="15.1">amount = 1</tspan><tspan x="0" y="35.3">next 3, prev 1</tspan></text></g>
<g id="c10r3" transform="translate(2941,637)"><use href="#o" transform="scale(124.5,70)" class="g"/><text><tspan x="0" y="-25.3">3</tspan><tspan x="0" y="-5.1">could</tspan><tspan x="0" y="15.1">amount = 1</tspan><tspan x="0" y="35.3">next 4, prev 2</tspan></text></g>
<g id="c10r4" transform="translate(2941,824)"><use href="#o" transform="scale(124.5,70)" class="g"/><text><tspan x="0" y="-25.3">4</tspan><tspan x="0" y="-5.1">worthier</tspan><tspan x="0" y="15.1">amount = 2</tspan><tspan x="0" y="35.3">next 5, prev 3</tspan></text></g>
<g id="c10r5" transform="translate(2941,1011)"><use href="#o" transform="scale(124.5,70)" class="g"/><text><tspan x="0" y="-25.3">5</tspan><tspan x="0" y="-5.1">collection</tspan><tspan x="0" y="15.1">amount = 1</tspan><tspan x="0" y="35.3">next 6, prev 4</tspan></text></g>
<g id="c10r6" transform="translate(2941,1198)"><use href="#o" transform="scale(124.5,70)" class="g"/><text><tspan x="0" y="-25.3">6</tspan><tspan x="0" y="-5.1">carefree</tspan><tspan x="0" y="15.1">amount = 1</tspan><tspan x="0" y="35.3">next 7, prev 5</tspan></text></g>
<g id="c10r7" transform="translate(2941,1385)"><use href="#o" transform="scale(124.5,70)" class="g"/><text><tspan x="0" y="-25.3">7</tspan><tspan x="0" y="-5.1">wane,</tspan><tspan x="0" y="15.1">amount = 1</tspan><tspan x="0" y="35.3">next 8, prev 6</tspan></text></g>
<g id="c10r8" transform="translate(2941,1572)"><use href="#o" transform="scale(130.5,70)" class="g"/><text><tspan x="0" y="-25.3">8</tspan><tspan x="0" y="-5.1">One</tspan><tspan x="0" y="15.1">amount = 1</tspan><tspan x="0" y="35.3">next -2, prev 7</tspan></text></g>
<g id="c10r9" transform="translate(2941,1759)"><use href="#h" transform="scale(146.5,42)" class="r"/><text><tspan x="0" y="-5.1">9</tspan><tspan x="0" y="15.1">next 10, prev -1</tspan></text></g>
</g>
</svg>
